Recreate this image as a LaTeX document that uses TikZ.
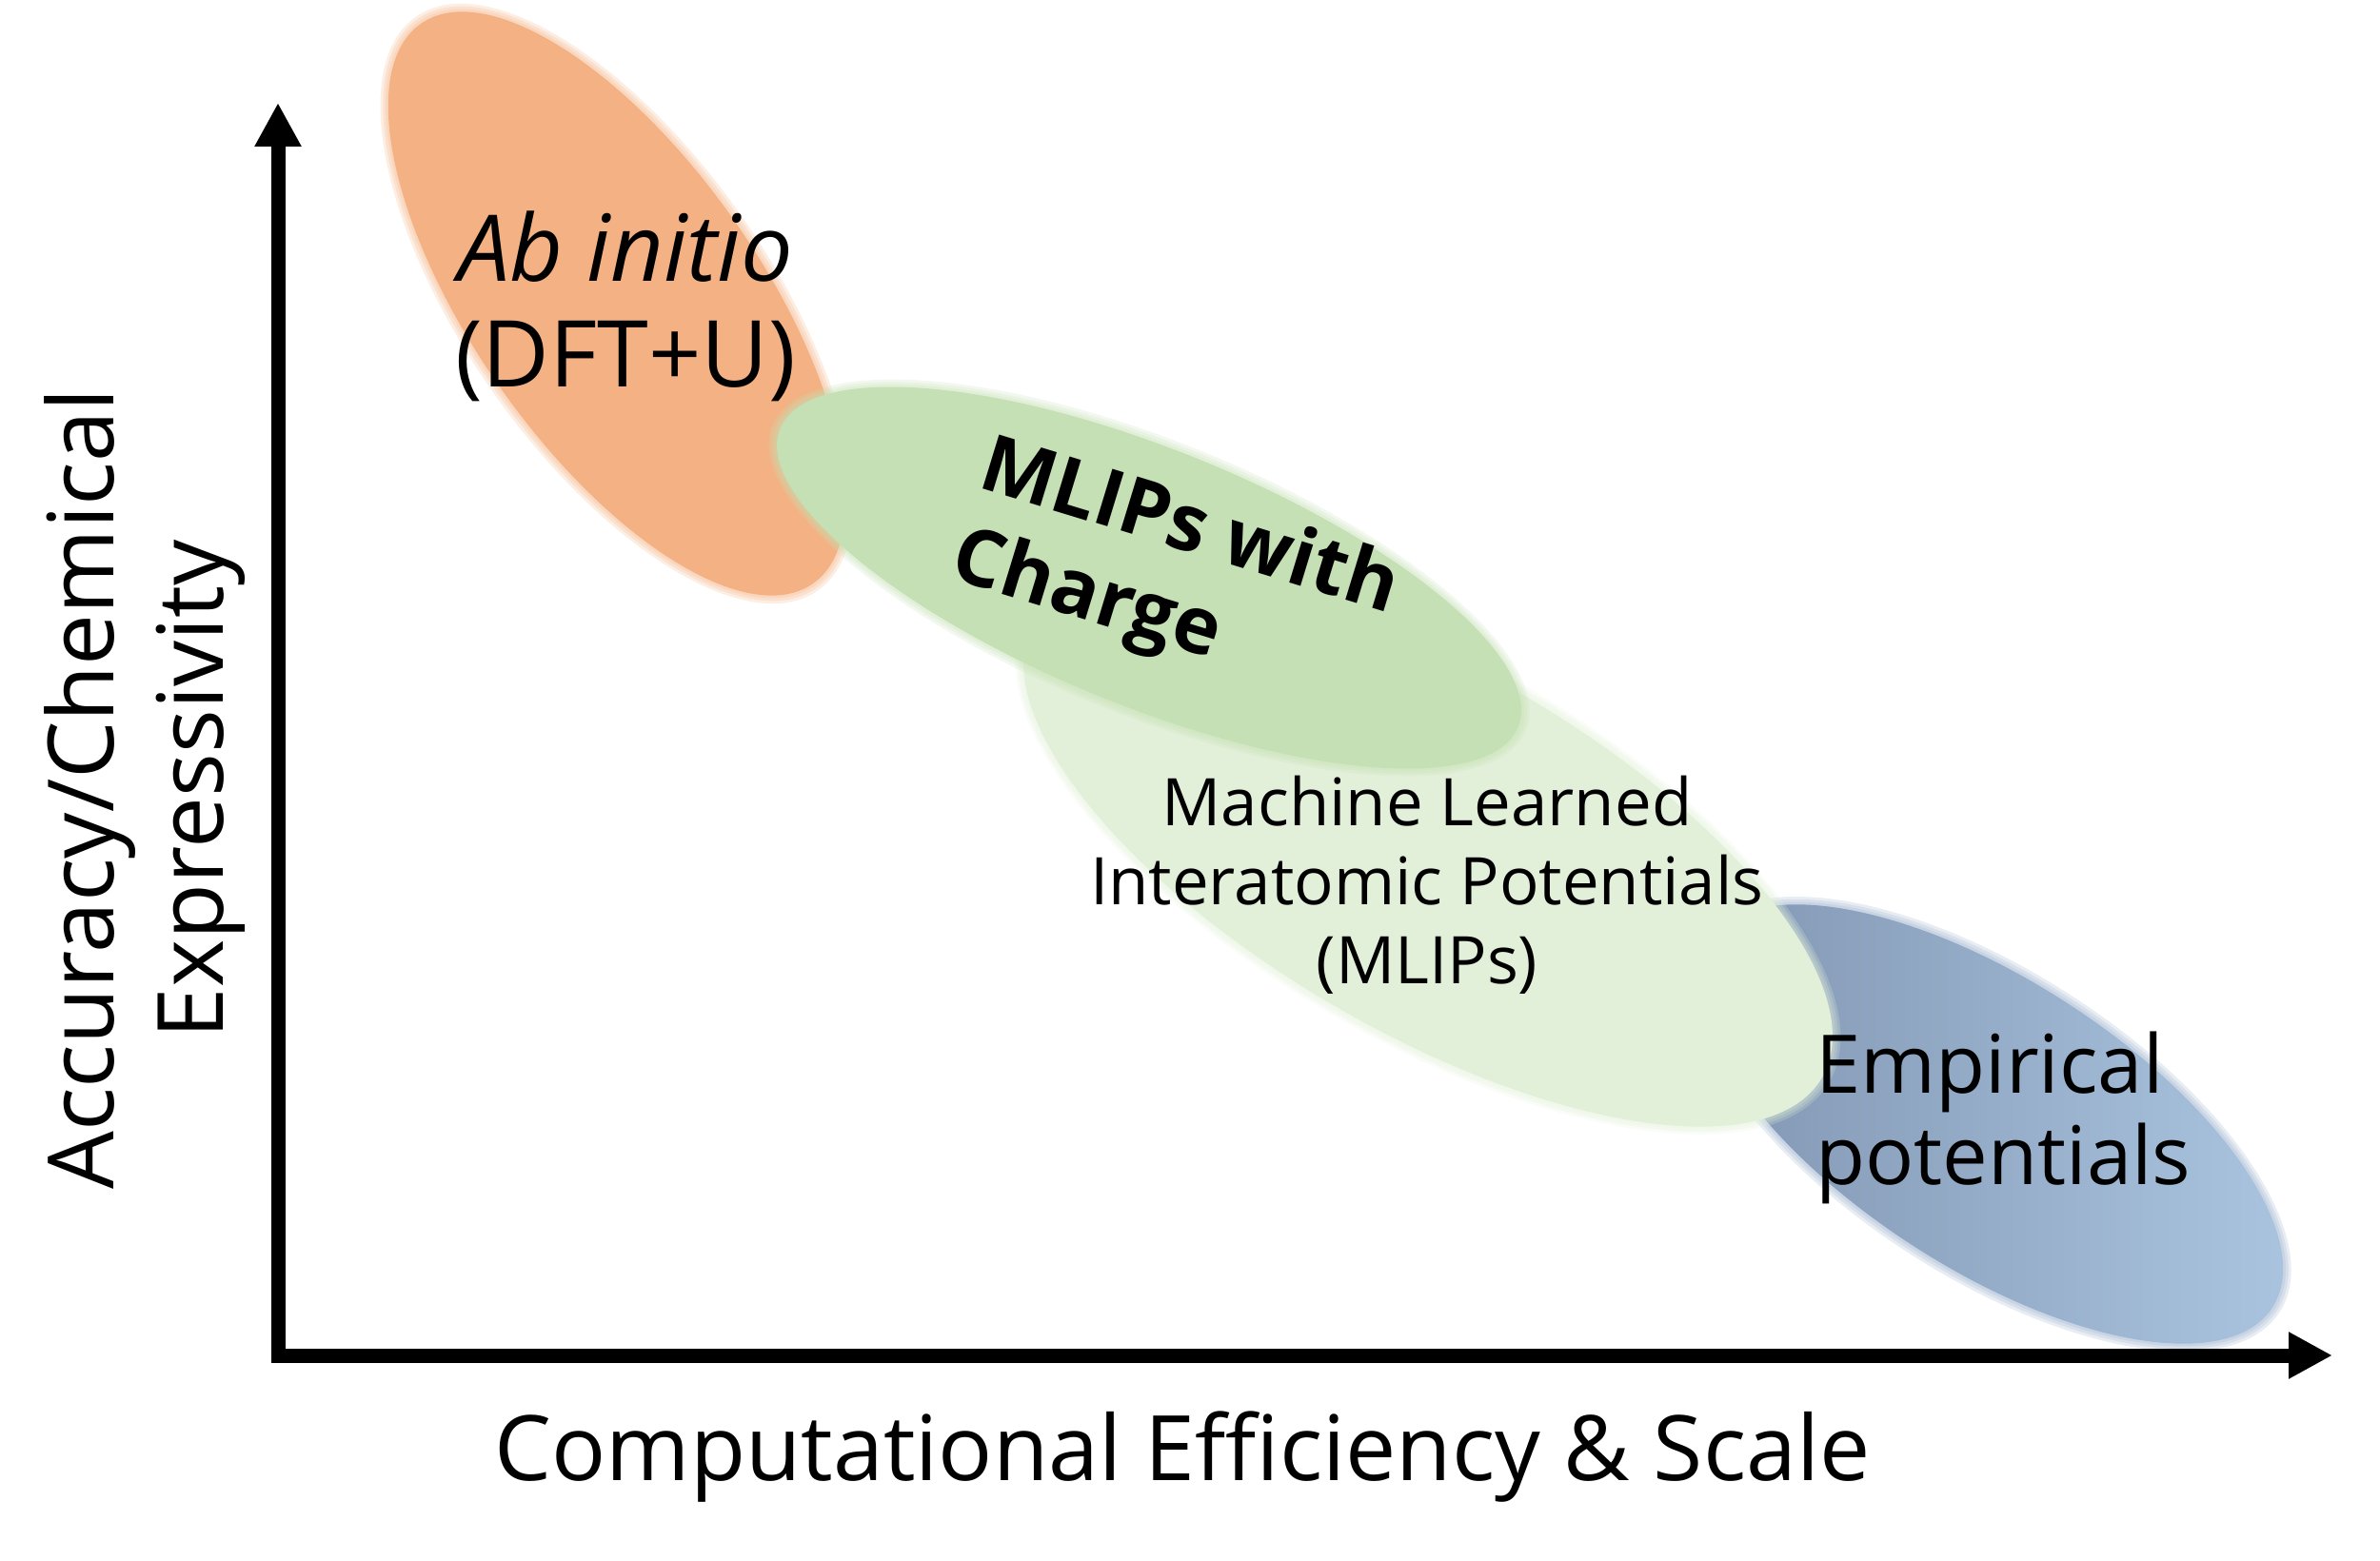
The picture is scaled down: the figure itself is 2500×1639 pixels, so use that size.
\documentclass[tikz,border=0pt]{standalone}
\usepackage{fontspec}
\setmainfont{Open Sans}
\usetikzlibrary{arrows.meta}
\definecolor{orangefill}{RGB}{244,177,131}
\definecolor{darkgreen}{RGB}{197,224,180}
\definecolor{lightgreen}{RGB}{226,240,217}
\definecolor{bluedark}{RGB}{124,144,172}
\definecolor{bluelight}{RGB}{176,203,230}
\definecolor{bluemid}{RGB}{150,174,202}
\newcommand{\softellipse}[6]{% color, cx, cy, rx, ry, angle
  \foreach \d in {9,6,3}{
    \fill[#1, opacity=0.22, rotate around={#6:(#2,#3)}] (#2,#3) ellipse [x radius=#4+\d, y radius=#5+\d];
  }
  \fill[#1, rotate around={#6:(#2,#3)}] (#2,#3) ellipse [x radius=#4, y radius=#5];
}
\tikzset{
  lbl/.style={inner sep=0pt, text=black},
  axisline/.style={line width=15pt, line join=miter,
    {Triangle[length=46pt,width=46pt]}-{Triangle[length=46pt,width=46pt]}}
}
\begin{document}
\begin{tikzpicture}[x=1pt,y=1pt]
\useasboundingbox (0,0) rectangle (2500,1639);
% blobs
\softellipse{orangefill}{648}{1320}{359}{151}{-55}
% blue with horizontal gradient
\foreach \d in {9,6,3}{
  \fill[bluemid, opacity=0.22, rotate around={-33:(2090,458)}] (2090,458) ellipse [x radius=354+\d, y radius=151+\d];
}
\begin{scope}
  \clip[rotate around={-33:(2090,458)}] (2090,458) ellipse [x radius=354, y radius=151];
  \shade[left color=bluedark, right color=bluelight] (1700,200) rectangle (2500,720);
\end{scope}
\softellipse{lightgreen}{1500}{746}{478}{191}{-30}
\softellipse{darkgreen}{1207}{1032}{418}{135}{-22}
% axes
\coordinate (ytip) at (292,1531);
\coordinate (origin) at (292,215);
\coordinate (xtip) at (2450,215);
\draw[axisline] (ytip) -- (origin) -- (xtip);
% labels
\node[lbl, align=center, font=\fontsize{97}{111}\selectfont] (abinitio) at (657,1317) {\textit{Ab initio}\\(DFT+U)};
\node[lbl, align=left, rotate=-17, font=\fontsize{83}{100}\selectfont\bfseries] (charge) at (1234,1034) {MLIPs with\\Charge};
\node[lbl, align=center, font=\fontsize{69}{83}\selectfont] (mlips) at (1499,709) {Machine Learned\\Interatomic Potentials\\(MLIPs)};
\node[lbl, align=left, anchor=west, font=\fontsize{85}{96}\selectfont] (empirical) at (1907,465) {Empirical\\potentials};
\node[lbl, anchor=base, font=\fontsize{95}{115}\selectfont] (xlabel) at (1242,84) {Computational Efficiency \& Scale};
\node[lbl, align=center, rotate=90, font=\fontsize{96}{115}\selectfont] (ylabel) at (152,810) {Accuracy/Chemical\\Expressivity};
\end{tikzpicture}
\end{document}
